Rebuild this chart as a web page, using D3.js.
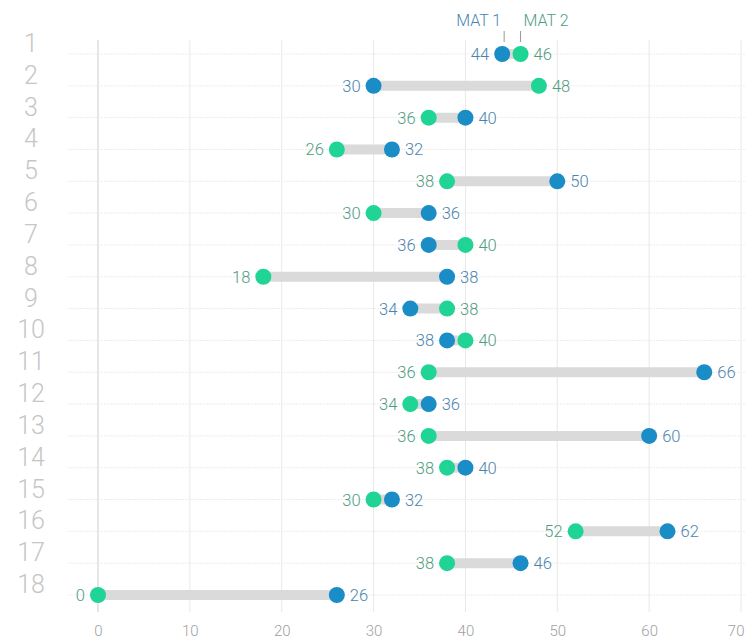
<!DOCTYPE html>
<html><head><meta charset="utf-8">
<script src="https://cdn.jsdelivr.net/npm/d3@7"></script>
<style>body{margin:0;background:#fff;}svg{display:block;font-family:Roboto,"Noto Sans",sans-serif;}</style>
</head><body><svg id="c" width="746" height="639"></svg>
<script>
const categories = ["1","2","3","4","5","6","7","8","9","10","11","12","13","14","15","16","17","18"];
const mat1 = [44,30,40,32,50,36,36,38,34,38,66,36,60,40,32,62,46,26];
const mat2 = [46,48,36,26,38,30,40,18,38,40,36,34,36,38,30,52,38,0];
const xTicks = [0,10,20,30,40,50,60,70];
const seriesNames = ["MAT 1","MAT 2"];

const svg = d3.select("#c");
const x = d3.scaleLinear().domain([0,70]).range([98,741]);
const y = d3.scalePoint().domain(categories).range([54,595]);
const blue = "#1a8cc6", green = "#1fd495";
const blueText = "#4a84ae", greenText = "#4f9c82";

// vertical grid
svg.append("g").selectAll("line").data(xTicks).join("line")
  .attr("x1", d=>x(d)).attr("x2", d=>x(d)).attr("y1", 40).attr("y2", 612)
  .attr("stroke", d=> d===0 ? "#cccccc" : "#e8e8e8").attr("stroke-width", 1);
// horizontal grid
svg.append("g").selectAll("line").data(categories).join("line")
  .attr("x1", 68).attr("x2", 745).attr("y1", d=>y(d)).attr("y2", d=>y(d))
  .attr("stroke", "#ececec").attr("stroke-dasharray","2,1");

// x axis labels
const xAxis = d3.axisBottom(x).tickValues(xTicks).tickSize(0).tickPadding(0);
const gx = svg.append("g").attr("transform","translate(0,625)").call(xAxis);
gx.select(".domain").remove();
gx.selectAll("text").attr("fill","#a0a0a0").attr("font-size",15).attr("font-weight",300)
  .attr("font-family","Roboto,sans-serif");
gx.selectAll(".tick").filter(d=>d===70).select("text").attr("text-anchor","end").attr("dx",3);

// row labels
svg.append("g").selectAll("text").data(categories).join("text")
  .attr("x", 31).attr("y", d=>y(d)-2).attr("text-anchor","middle").text(d=>d)
  .attr("fill","#c6c6c6").attr("font-size",25).attr("font-weight",300);

const rows = categories.map((c,i)=>({c, a:mat1[i], b:mat2[i]}));
// bars
svg.append("g").selectAll("line").data(rows).join("line")
  .attr("x1", d=>x(d.a)).attr("x2", d=>x(d.b)).attr("y1", d=>y(d.c)).attr("y2", d=>y(d.c))
  .attr("stroke","#dadada").attr("stroke-width",10);
// dots
svg.append("g").selectAll("circle").data(rows).join("circle")
  .attr("cx", d=>x(d.a)).attr("cy", d=>y(d.c)).attr("r",8).attr("fill",blue);
svg.append("g").selectAll("circle").data(rows).join("circle")
  .attr("cx", d=>x(d.b)).attr("cy", d=>y(d.c)).attr("r",8).attr("fill",green);

// value labels
const lab = svg.append("g").attr("font-size",16.5).attr("font-weight",300);
rows.forEach(d=>{
  const aLeft = d.a <= d.b;
  lab.append("text").attr("x", aLeft ? x(d.a)-13 : x(d.a)+13).attr("y", y(d.c)+6)
    .attr("text-anchor", aLeft ? "end" : "start").attr("fill", blueText).text(d.a);
  lab.append("text").attr("x", aLeft ? x(d.b)+13 : x(d.b)-13).attr("y", y(d.c)+6)
    .attr("text-anchor", aLeft ? "start" : "end").attr("fill", greenText).text(d.b);
});

// legend callouts
const lg = svg.append("g");
lg.append("line").attr("x1", x(mat1[0])+2).attr("x2", x(mat1[0])+2).attr("y1",31).attr("y2",42).attr("stroke","#999");
lg.append("line").attr("x1", x(mat2[0])).attr("x2", x(mat2[0])).attr("y1",31).attr("y2",42).attr("stroke","#999");
lg.append("text").attr("x", x(mat1[0])-1).attr("y",26).attr("text-anchor","end").attr("font-weight",300)
  .attr("fill",blueText).attr("font-size",16).text(seriesNames[0]);
lg.append("text").attr("x", x(mat2[0])+3).attr("y",26).attr("text-anchor","start").attr("font-weight",300)
  .attr("fill",greenText).attr("font-size",16).text(seriesNames[1]);
</script></body></html>
